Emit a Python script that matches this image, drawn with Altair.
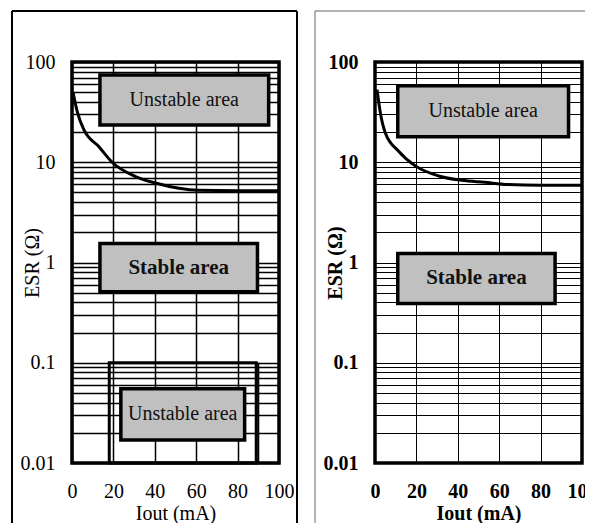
import altair as alt
import pandas as pd

FONT = "Liberation Serif"

# ---- data ----
left_curve_x = [0.5, 2.6, 5.8, 13, 19.4, 30.7, 40.3, 51.6, 61, 80, 100]
left_curve_y = [50, 31.6, 21, 14.3, 10, 7.2, 6.2, 5.5, 5.25, 5.2, 5.2]

right_curve_x = [1, 2.6, 5, 11.4, 19.5, 30.8, 42, 53, 64, 80, 100]
right_curve_y = [53, 31, 19.6, 12.9, 9.2, 7.3, 6.6, 6.3, 6.0, 5.9, 5.9]

left_box_labels = ["Unstable area", "Stable area", "Unstable area"]
left_box_x1 = [13.5, 13.5, 23.6]
left_box_x2 = [95, 89.6, 83.4]
left_box_y1 = [23.5, 0.51, 0.017]
left_box_y2 = [74, 1.55, 0.055]
left_box_bold = ["normal", "bold", "normal"]

right_box_labels = ["Unstable area", "Stable area"]
right_box_x1 = [11, 11]
right_box_x2 = [93.5, 87]
right_box_y1 = [18, 0.39]
right_box_y2 = [58, 1.23]
right_box_bold = ["normal", "bold"]

# outlined unstable zone (left panel)
zone_x1, zone_x2, zone_y1, zone_y2 = 18, 89, 0.01, 0.1
zone_rule_x = 90

x_ticks = [0, 20, 40, 60, 80, 100]
y_ticks = [round(m * 10 ** e, 6) for e in range(-2, 2) for m in range(1, 10)] + [100]
y_major = [0.01, 0.1, 1, 10, 100]

xs = alt.Scale(domain=[0, 100], nice=False, zero=False)
ys = alt.Scale(type="log", domain=[0.01, 100], nice=False)


def axes(weight, grid_w, h, lpad_x, tpad_x):
    xa = alt.Axis(values=x_ticks, grid=True, gridColor="black", gridWidth=grid_w,
                  gridOpacity=1, ticks=False, domain=False, labelFont=FONT,
                  labelFontSize=20, labelColor="black", labelFontWeight=weight,
                  labelPadding=lpad_x, labelFlush=False, title="Iout (mA)", titleFont=FONT,
                  titleFontSize=20, titleFontWeight=weight, titleColor="black",
                  titlePadding=tpad_x)
    ya = alt.Axis(values=y_ticks,
                  labelExpr="indexof(" + str(y_major) + ", datum.value) >= 0 ? format(datum.value, '~g') : ''",
                  grid=True, gridColor="black", gridWidth=grid_w, gridOpacity=1,
                  ticks=False, domain=False, labelFont=FONT, labelFontSize=20,
                  labelColor="black", labelFontWeight=weight, labelPadding=17,
                  labelFlush=False, title="ESR (Ω)", titleFont=FONT, titleFontSize=20,
                  titleFontWeight=weight, titleColor="black", titleX=-34, titleY=h / 2,
                  titleAngle=270, titleBaseline="alphabetic")
    return xa, ya


def frame_layers(segments, color, width):
    out = []
    for (a, a2, b, b2) in segments:
        out.append(alt.Chart(alt.Data(values=[{}])).mark_rule(
            color=color, strokeWidth=width, clip=False
        ).encode(x=alt.value(a), x2=alt.value(a2), y=alt.value(b), y2=alt.value(b2)))
    return out


def panel(cx, cy, labels, bx1, bx2, by1, by2, bold, weight, grid_w, w, h,
          lpad_x, tpad_x, frame, extra=None):
    xa, ya = axes(weight, grid_w, h, lpad_x, tpad_x)
    curve = alt.Chart(pd.DataFrame({"x": cx, "y": cy})).mark_line(
        color="black", strokeWidth=3, interpolate="monotone"
    ).encode(x=alt.X("x:Q", scale=xs, axis=xa), y=alt.Y("y:Q", scale=ys, axis=ya))

    bdf = pd.DataFrame({"x": bx1, "x2": bx2, "y": by1, "y2": by2, "label": labels,
                        "weight": bold})
    bdf["tx"] = (bdf["x"] + bdf["x2"]) / 2
    bdf["ty"] = (bdf["y"] * bdf["y2"]) ** 0.5
    boxes = alt.Chart(bdf).mark_rect(fill="#c0c0c0", stroke="black", strokeWidth=3.5).encode(
        x=alt.X("x:Q", scale=xs, axis=xa), x2="x2:Q",
        y=alt.Y("y:Q", scale=ys, axis=ya), y2="y2:Q")
    layers = [curve, boxes]
    for wt in ["normal", "bold"]:
        sub = bdf[bdf["weight"] == wt]
        if len(sub):
            layers.append(alt.Chart(sub).mark_text(
                font=FONT, fontSize=20 if wt == "normal" else 21, fontWeight=wt,
                color="#111", baseline="middle"
            ).encode(x=alt.X("tx:Q", scale=xs, axis=xa),
                     y=alt.Y("ty:Q", scale=ys, axis=ya), text="label:N"))
    if extra:
        layers += extra(xa, ya)
    layers += frame
    return alt.layer(*layers).properties(width=w, height=h)


def zone(xa, ya):
    zdf = pd.DataFrame({"x": [zone_x1], "x2": [zone_x2], "y": [zone_y1], "y2": [zone_y2]})
    r = alt.Chart(zdf).mark_rect(filled=False, stroke="black", strokeWidth=3).encode(
        x=alt.X("x:Q", scale=xs, axis=xa), x2="x2:Q",
        y=alt.Y("y:Q", scale=ys, axis=ya), y2="y2:Q")
    rdf = pd.DataFrame({"x": [zone_rule_x], "y": [zone_y1], "y2": [zone_y2]})
    rl = alt.Chart(rdf).mark_rule(color="black", strokeWidth=2).encode(
        x=alt.X("x:Q", scale=xs, axis=xa), y=alt.Y("y:Q", scale=ys, axis=ya), y2="y2:Q")
    return [r, rl]


# decorative panel frames, in pixels relative to each plot area
left_frame = frame_layers([(-60, -60, -51, 470), (-60, 225, -51, -51), (225, 225, -51, 470)],
                          "black", 2)
right_frame = frame_layers([(-60, -60, -51, 470), (-60, 210, -51, -51)], "#666", 1)

left = panel(left_curve_x, left_curve_y, left_box_labels, left_box_x1, left_box_x2,
             left_box_y1, left_box_y2, left_box_bold, "normal", 1.5, 207, 401, 18, 2,
             left_frame, extra=zone)
right = panel(right_curve_x, right_curve_y, right_box_labels, right_box_x1, right_box_x2,
              right_box_y1, right_box_y2, right_box_bold, "bold", 1, 207, 401, 18, 2,
              right_frame)

chart = alt.hconcat(left, right, spacing=12).properties(
    padding={"left": 1, "top": 0, "right": -14, "bottom": -12}
).configure_view(stroke="black", strokeWidth=3.5)

chart.save("out.html", embed_options={"renderer": "svg", "actions": False})
